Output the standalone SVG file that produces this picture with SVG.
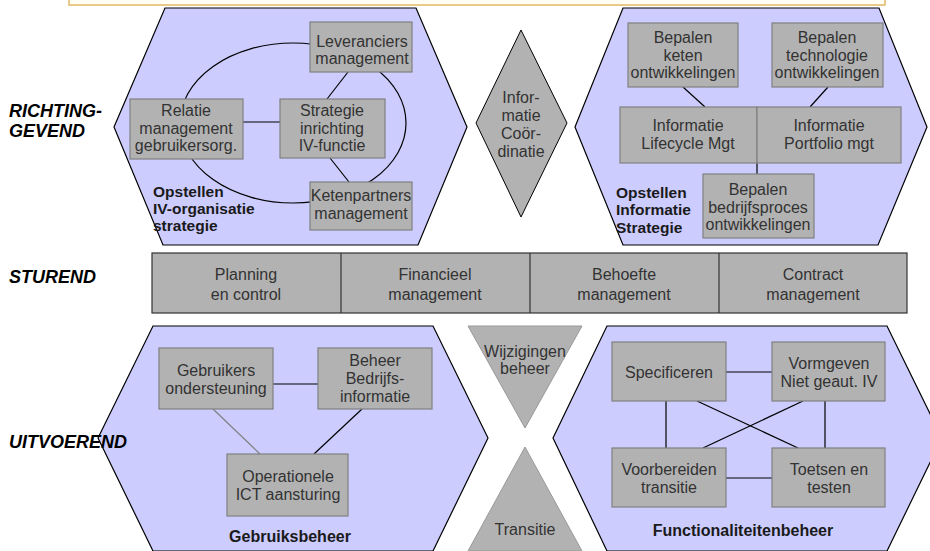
<svg xmlns="http://www.w3.org/2000/svg" width="930" height="551" viewBox="0 0 930 551">
<style>
.hex{fill:#CCCCFF;stroke:#000;stroke-width:1.2}
.box{fill:#B2B2B2;stroke:#808080;stroke-width:1.2}
.strip{fill:#B2B2B2;stroke:#333;stroke-width:1.2}
.tri{fill:#B2B2B2;stroke:#999;stroke-width:1}
.dia{fill:#B2B2B2;stroke:#000;stroke-width:1}
text{font-family:"Liberation Sans",Arial,sans-serif;font-size:16px;fill:#333;text-anchor:middle}
.side{font-weight:bold;font-style:italic;font-size:18px;fill:#000;text-anchor:start}
.lbl{font-weight:bold;font-size:15.5px;fill:#1a1a1a;text-anchor:start}
.lblc{font-weight:bold;font-size:16px;fill:#1a1a1a}
.c{stroke:#000;stroke-width:1.2;fill:none}
.cg{stroke:#808080;stroke-width:1.2;fill:none}
</style>
<rect x="69" y="-10" width="816" height="15" fill="#FFFFF4" stroke="#E2B866" stroke-width="1.5"/>
<g id="hex-iv-organisatie">
<polygon class="hex" points="165,8 416,8 467,127 418,245 163,245 114,127"/>
<ellipse cx="293" cy="123" rx="113" ry="80" class="c"/>
</g>
<g id="hex-informatie-strategie">
<polygon class="hex" points="623,8 879,8 927,127 878,245 623,245 575,127"/>
</g>
<g id="hex-gebruiksbeheer">
<polygon class="hex" points="153,326 433,326 488,438 433,551 153,551 98,438"/>
</g>
<g id="hex-functionaliteitenbeheer">
<polygon class="hex" points="607,326 887,326 942,438 887,551 607,551 553,438"/>
</g>
<g id="connectors">
<line class="c" x1="243" y1="122" x2="280" y2="122"/>
<line class="c" x1="348" y1="72" x2="327" y2="99"/>
<line class="c" x1="330" y1="158" x2="349" y2="182"/>
<line class="c" x1="683" y1="87" x2="705" y2="107"/>
<line class="c" x1="828" y1="87" x2="810" y2="107"/>
<line class="c" x1="757" y1="163" x2="757" y2="174"/>
<line class="c" x1="273" y1="384" x2="318" y2="384"/>
<line class="cg" x1="213" y1="409" x2="260" y2="454"/>
<line class="c" x1="362" y1="409" x2="314" y2="454"/>
<line class="c" x1="726" y1="372" x2="772" y2="372"/>
<line class="c" x1="726" y1="478" x2="772" y2="478"/>
<line class="c" x1="666" y1="401" x2="666" y2="448"/>
<line class="c" x1="825" y1="401" x2="825" y2="448"/>
<line class="c" x1="697" y1="401" x2="798" y2="448"/>
<line class="c" x1="803" y1="401" x2="703" y2="448"/>
</g>
<g id="leveranciers">
<rect class="box" x="310" y="22" width="102" height="50"/>
<text x="362" y="47">Leveranciers</text>
<text x="362" y="64">management</text>
</g>
<g id="relatie">
<rect class="box" x="130" y="99" width="113" height="60"/>
<text x="186" y="116">Relatie</text>
<text x="186" y="134">management</text>
<text x="186" y="151">gebruikersorg.</text>
</g>
<g id="strategie">
<rect class="box" x="280" y="99" width="105" height="59"/>
<text x="332" y="116">Strategie</text>
<text x="332" y="134">inrichting</text>
<text x="332" y="151">IV-functie</text>
</g>
<g id="ketenpartners">
<rect class="box" x="310" y="182" width="102" height="48"/>
<text x="361" y="201">Ketenpartners</text>
<text x="361" y="219">management</text>
</g>
<g id="label-iv-organisatie">
<text class="lbl" x="153" y="197">Opstellen</text>
<text class="lbl" x="153" y="214">IV-organisatie</text>
<text class="lbl" x="153" y="231">strategie</text>
</g>
<g id="informatie-coordinatie">
<polygon class="dia" points="521,30 567,123 521,217 476,123"/>
<text x="521" y="103">Infor-</text>
<text x="521" y="121">matie</text>
<text x="521" y="139">Coör-</text>
<text x="521" y="157">dinatie</text>
</g>
<g id="bepalen-keten">
<rect class="box" x="628" y="23" width="110" height="64"/>
<text x="683" y="43">Bepalen</text>
<text x="683" y="61">keten</text>
<text x="683" y="78">ontwikkelingen</text>
</g>
<g id="bepalen-technologie">
<rect class="box" x="772" y="23" width="111" height="64"/>
<text x="827" y="43">Bepalen</text>
<text x="827" y="61">technologie</text>
<text x="827" y="78">ontwikkelingen</text>
</g>
<g id="informatie-lifecycle">
<rect class="box" x="620" y="107" width="137" height="56"/>
<text x="688" y="131">Informatie</text>
<text x="688" y="149">Lifecycle Mgt</text>
</g>
<g id="informatie-portfolio">
<rect class="box" x="757" y="107" width="144" height="56"/>
<text x="829" y="131">Informatie</text>
<text x="829" y="149">Portfolio mgt</text>
</g>
<g id="bepalen-bedrijfsproces">
<rect class="box" x="703" y="174" width="111" height="64"/>
<text x="758" y="195">Bepalen</text>
<text x="758" y="213">bedrijfsproces</text>
<text x="758" y="230">ontwikkelingen</text>
</g>
<g id="label-informatie-strategie">
<text class="lbl" x="616" y="198">Opstellen</text>
<text class="lbl" x="616" y="215">Informatie</text>
<text class="lbl" x="616" y="233">Strategie</text>
</g>
<g id="sturend-strip">
<rect class="strip" x="152" y="253" width="755" height="60"/>
<line x1="341" y1="253" x2="341" y2="313" stroke="#333" stroke-width="1.2"/>
<line x1="530" y1="253" x2="530" y2="313" stroke="#333" stroke-width="1.2"/>
<line x1="719" y1="253" x2="719" y2="313" stroke="#333" stroke-width="1.2"/>
<text x="246" y="280">Planning</text>
<text x="246" y="300">en control</text>
<text x="435" y="280">Financieel</text>
<text x="435" y="300">management</text>
<text x="624" y="280">Behoefte</text>
<text x="624" y="300">management</text>
<text x="813" y="280">Contract</text>
<text x="813" y="300">management</text>
</g>
<g id="wijzigingen-beheer">
<polygon class="tri" points="468,326 582,326 525,428"/>
<text x="525" y="357">Wijzigingen</text>
<text x="525" y="374">beheer</text>
</g>
<g id="transitie">
<polygon class="tri" points="525,447 582,551 468,551"/>
<text x="525" y="535">Transitie</text>
</g>
<g id="gebruikers-ondersteuning">
<rect class="box" x="159" y="348" width="114" height="61"/>
<text x="216" y="376">Gebruikers</text>
<text x="216" y="394">ondersteuning</text>
</g>
<g id="beheer-bedrijfsinformatie">
<rect class="box" x="318" y="348" width="114" height="61"/>
<text x="375" y="366">Beheer</text>
<text x="375" y="384">Bedrijfs-</text>
<text x="375" y="402">informatie</text>
</g>
<g id="operationele-ict">
<rect class="box" x="227" y="454" width="121" height="62"/>
<text x="288" y="482">Operationele</text>
<text x="288" y="500">ICT aansturing</text>
</g>
<text class="lblc" x="290" y="542">Gebruiksbeheer</text>
<g id="specificeren">
<rect class="box" x="612" y="342" width="114" height="59"/>
<text x="669" y="378">Specificeren</text>
</g>
<g id="vormgeven">
<rect class="box" x="772" y="342" width="113" height="59"/>
<text x="829" y="369">Vormgeven</text>
<text x="829" y="387">Niet geaut. IV</text>
</g>
<g id="voorbereiden-transitie">
<rect class="box" x="612" y="448" width="114" height="59"/>
<text x="669" y="475">Voorbereiden</text>
<text x="669" y="493">transitie</text>
</g>
<g id="toetsen-testen">
<rect class="box" x="772" y="448" width="113" height="59"/>
<text x="829" y="475">Toetsen en</text>
<text x="829" y="493">testen</text>
</g>
<text class="lblc" x="743" y="536">Functionaliteitenbeheer</text>
<g id="side-labels">
<text class="side" x="9" y="117">RICHTING-</text>
<text class="side" x="9" y="137">GEVEND</text>
<text class="side" x="9" y="283">STUREND</text>
<text class="side" x="9" y="448">UITVOEREND</text>
</g>
</svg>
